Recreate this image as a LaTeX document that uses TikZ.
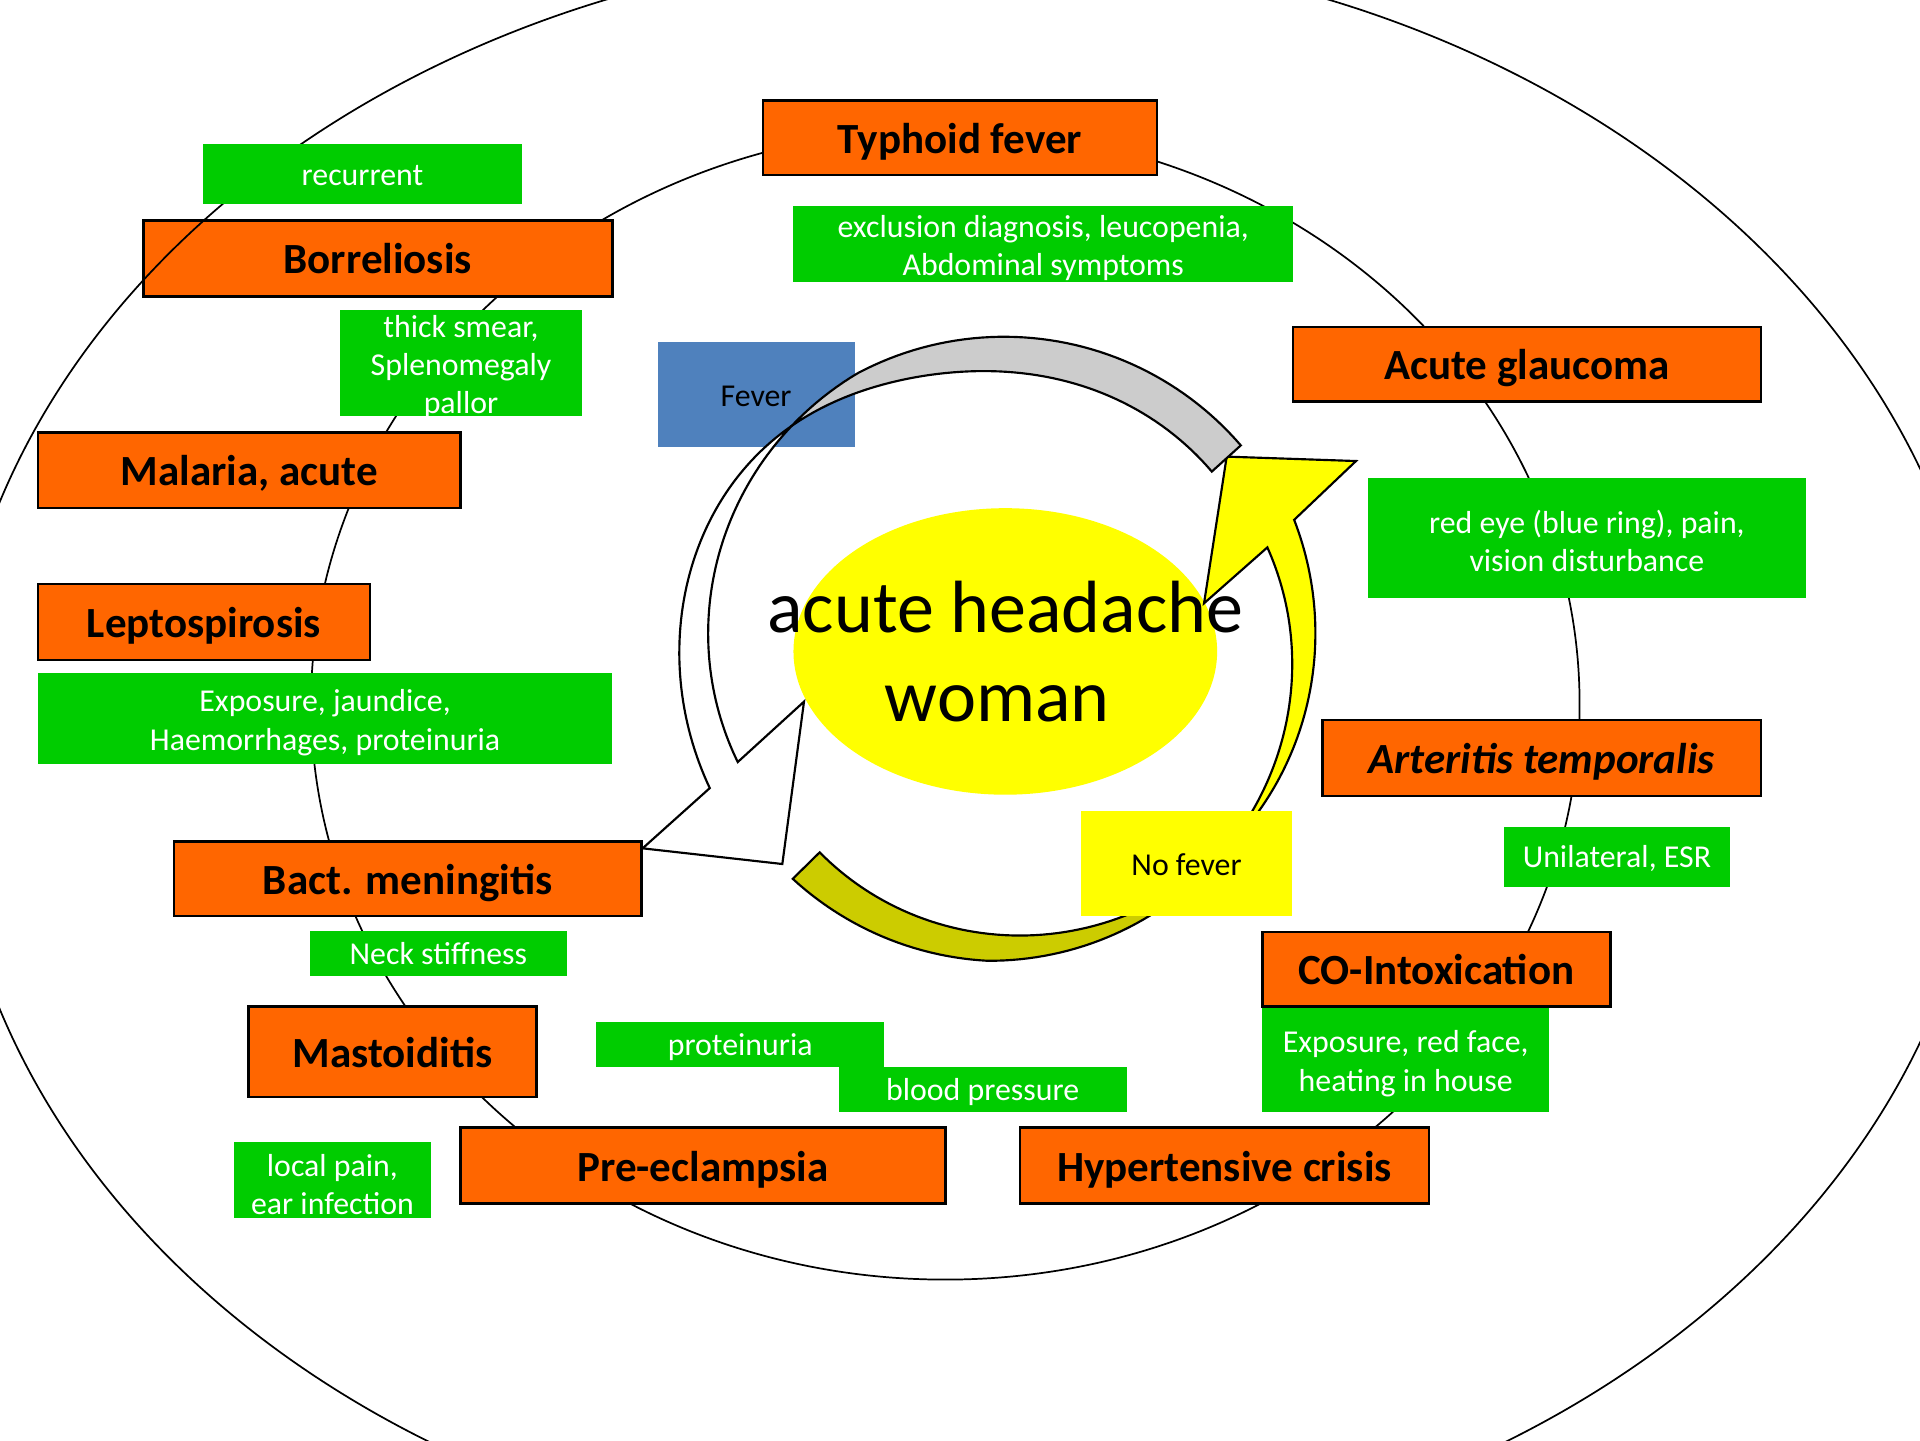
\documentclass[tikz,border=0pt]{standalone}
\usepackage{fontspec}
\setmainfont{Carlito}
\definecolor{boxorange}{HTML}{FF6600}
\definecolor{boxgreen}{HTML}{00CC00}
\definecolor{feverblue}{HTML}{4F81BD}
\definecolor{nofeveryellow}{HTML}{FFFF00}
\definecolor{arrowgray}{HTML}{CCCCCC}
\definecolor{arrowolive}{HTML}{CCCC00}
\newcommand{\signstrut}{\rule{0pt}{7pt}}

\begin{document}
\begin{tikzpicture}[x=0.1mm, y=0.1mm, every node/.style={align=center, inner sep=0pt},
  disease/.style={draw=black, line width=0.6pt, fill=boxorange, font=\fontsize{10}{12}\selectfont\bfseries, text height=8.2pt, text depth=1pt},
  sign/.style={fill=boxgreen, text=white, font=\fontsize{7.4}{8.9}\selectfont},
  signline/.style={sign, text height=5.6pt, text depth=0.5pt},
  ring/.style={line width=0.4pt},
  arrowline/.style={draw=black, line width=0.5pt},
  declare function={Lone(\t)=255-0.22*max(0,\t-118); Ltwo(\t)=244.5+21.5*tanh((\t-124)/28);
                    Mone(\t)=255-0.215*max(0,\t+93); Mtwo(\t)=224+0.225*(\t+133);}]
  \clip (0,0) rectangle (1568,-1176);

  \draw[ring] (772,-575) ellipse [x radius=518, y radius=470];

  \node[disease, minimum width=32.2mm, minimum height=6.1mm] (typhoid) at (784,-112.5) {Typhoid fever};
  \node[disease, minimum width=38.3mm, minimum height=6.2mm] (borrel) at (308.5,-211) {Borreliosis};
  \node[disease, minimum width=34.5mm, minimum height=6.2mm] (malaria) at (203.5,-384) {Malaria, acute};
  \node[disease, minimum width=27.1mm, minimum height=6.2mm] (lepto) at (166.5,-508) {Leptospirosis};
  \node[disease, minimum width=38.2mm, minimum height=6.1mm] (mening) at (333,-717.5) {Bact. meningitis};
  \node[disease, minimum width=23.5mm, minimum height=7.4mm] (mastoid) at (320.5,-859) {Mastoiditis};
  \node[disease, minimum width=39.6mm, minimum height=6.2mm] (preecl) at (574,-952) {Pre-eclampsia};
  \node[disease, minimum width=33.4mm, minimum height=6.2mm] (hyper) at (1000,-952) {Hypertensive crisis};
  \node[disease, minimum width=28.4mm, minimum height=6.1mm] (cointox) at (1173,-791.5) {CO-Intoxication};
  \node[disease, minimum width=35.8mm, minimum height=6.2mm, font=\fontsize{10}{12}\selectfont\bfseries\itshape] (arter) at (1259,-619) {Arteritis temporalis};
  \node[disease, minimum width=38.2mm, minimum height=6.1mm] (glauc) at (1247,-297.5) {Acute glaucoma};

  \draw[ring] (790,-617) ellipse [x radius=832, y radius=660];

  \node[signline, minimum width=26mm, minimum height=4.9mm] (recur) at (296,-142.5) {recurrent};
  \node[sign, inner ysep=-1pt, minimum width=19.7mm, minimum height=8.7mm] (smear) at (376.5,-296.5) {\signstrut thick smear,\\Splenomegaly\\pallor};
  \node[sign, minimum width=40.8mm, minimum height=6.2mm] (exclus) at (852,-199) {\signstrut exclusion diagnosis, leucopenia,\\Abdominal symptoms};
  \node[sign, minimum width=35.8mm, minimum height=9.8mm] (redeye) at (1296,-439) {\signstrut red eye (blue ring), pain,\\vision disturbance};
  \node[sign, minimum width=46.9mm, minimum height=7.4mm] (jaundice) at (265.5,-587) {\signstrut Exposure, jaundice,\\Haemorrhages, proteinuria};
  \node[signline, minimum width=18.5mm, minimum height=4.9mm] (esr) at (1320.5,-699.5) {Unilateral, ESR};
  \node[signline, minimum width=21mm, minimum height=3.7mm] (neck) at (358,-778.5) {Neck stiffness};
  \node[signline, minimum width=23.5mm, minimum height=3.6mm] (protein) at (604.5,-853) {proteinuria};
  \node[signline, minimum width=23.5mm, minimum height=3.7mm] (bloodp) at (802.5,-889.5) {blood pressure};
  \node[sign, minimum width=23.4mm, minimum height=8.5mm] (redface) at (1148,-865.5) {\signstrut Exposure, red face,\\heating in house};
  \node[sign, minimum width=16.1mm, minimum height=6.2mm] (earinf) at (271.5,-964) {\signstrut local pain,\\ear infection};

  \node[fill=feverblue, minimum width=16.1mm, minimum height=8.6mm, font=\fontsize{7.4}{8.9}\selectfont, text height=6.2pt, text depth=0.5pt] (fever) at (617.5,-322) {Fever};
  \fill[nofeveryellow] (821,-532) ellipse [x radius=173, y radius=117];

  \coordinate (wbarbout) at (524.8,-692.8);
  \coordinate (wtip) at (638.9,-705.6);
  \coordinate (wbarbin) at (656.6,-573);
  \coordinate (ybarbout) at (1107.4,-376.5);
  \coordinate (ytip) at (1001.8,-372.9);
  \coordinate (ybarbin) at (983.3,-492.7);
  \begin{scope}[shift={(820,-530)}, samples=60]
    \draw[arrowline, fill=arrowolive] plot[domain=-132.6:-43] (\x:{Mone(\x)}) -- plot[domain=-43:-132.2] (\x:{Mtwo(\x)}) -- cycle;
    \draw[arrowline, fill=nofeveryellow] plot[domain=-43:24] (\x:{Mtwo(\x)}) -- (ybarbout) -- (ytip) -- (ybarbin) -- plot[domain=21.1:-43] (\x:{Mone(\x)}) -- cycle;
    \draw[arrowline, fill=arrowgray] plot[domain=40.7:133.6] (\x:{Lone(\x)}) -- plot[domain=133.6:40.5] (\x:{Ltwo(\x)}) -- cycle;
    \draw[arrowline, fill=white] plot[domain=133.6:205.3] (\x:{Ltwo(\x)}) -- (wbarbout) -- (wtip) -- (wbarbin) -- plot[domain=203:133.6] (\x:{Lone(\x)}) -- cycle;
  \end{scope}

  \node[font=\fontsize{17.2}{20.6}\selectfont] (patient) at (821,-532) {acute headache\\woman\hspace*{1.3mm}};
  \node[fill=nofeveryellow, minimum width=17.2mm, minimum height=8.6mm, font=\fontsize{7.4}{8.9}\selectfont, text height=6.2pt, text depth=0.5pt] (nofever) at (969,-705) {No fever};
\end{tikzpicture}
\end{document}
